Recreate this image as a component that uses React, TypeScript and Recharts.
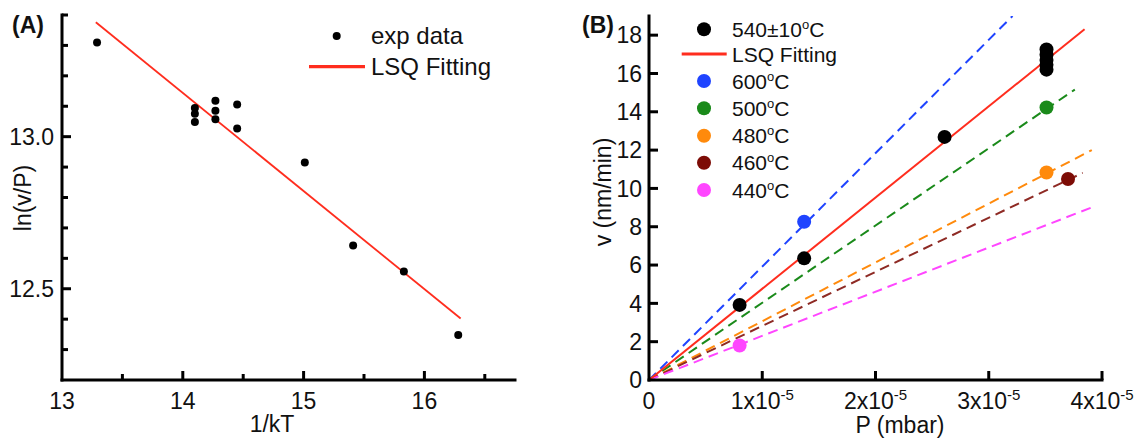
import React from 'react';
import { ComposedChart, Scatter, Line, XAxis, YAxis } from 'recharts';

const FONT = '"Liberation Sans", Arial, Helvetica, sans-serif';

// ---------- Panel A data ----------
const aExpX = [13.29, 14.1, 14.1, 14.1, 14.27, 14.27, 14.27, 14.45, 14.45, 15.01, 15.41, 15.83, 16.28];
const aExpY = [13.31, 13.094, 13.075, 13.048, 13.118, 13.085, 13.057, 13.106, 13.027, 12.915, 12.642, 12.557, 12.348];
const aFitX = [13.28, 16.3];
const aFitY = [13.376, 12.402];
const aXTicks = [13, 13.5, 14, 14.5, 15, 15.5, 16, 16.5];
const aXMajor = [13, 14, 15, 16];
const aYTicks = [12.3, 12.4, 12.5, 12.6, 12.7, 12.8, 12.9, 13.0, 13.1, 13.2, 13.3, 13.4];
const aYMajor = [12.5, 13.0];

// ---------- Panel B data (P in mbar, v in nm/min) ----------
const b540P = [0.8e-5, 1.37e-5, 2.61e-5, 3.51e-5, 3.51e-5, 3.51e-5, 3.51e-5, 3.51e-5];
const b540V = [3.92, 6.35, 12.69, 17.25, 16.98, 16.7, 16.45, 16.2];
const bFitP = [0, 3.846e-5];
const bFitV = [0, 18.31];
const b600P = [1.37e-5];
const b600V = [8.26];
const b500P = [3.51e-5];
const b500V = [14.22];
const b480P = [3.51e-5];
const b480V = [10.83];
const b460P = [3.7e-5];
const b460V = [10.49];
const b440P = [0.8e-5];
const b440V = [1.8];
const b600LineP = [0, 3.21e-5];
const b600LineV = [0, 19.0];
const b500LineP = [0, 3.76e-5];
const b500LineV = [0, 15.16];
const b480LineP = [0, 3.91e-5];
const b480LineV = [0, 12.0];
const b460LineP = [0, 3.83e-5];
const b460LineV = [0, 10.81];
const b440LineP = [0, 3.94e-5];
const b440LineV = [0, 9.08];
const bXTicks = [0, 1e-5, 2e-5, 3e-5, 4e-5];
const bYTicks = [0, 2, 4, 6, 8, 10, 12, 14, 16, 18];

const RED = '#ff2d1e';
const BLUE = '#1f44ff';
const GREEN = '#1a8a1a';
const ORANGE = '#ff8a0c';
const DARKRED = '#7d0c06';
const MAGENTA = '#ff46ff';

const zip = (xs: number[], ys: number[]) => xs.map((x, i) => ({ x, y: ys[i] }));

const TXT = '#111';
const TICK_FS = 23;

const AYTick = (p: any) => {
  const { x, y, payload } = p;
  const v = payload.value;
  const major = aYMajor.some((m) => Math.abs(m - v) < 1e-6);
  return (
    <g>
      <line x1={x} y1={y} x2={x + (major ? 9 : 6)} y2={y} stroke="#000" strokeWidth={3} />
      {major && (
        <text x={x - 8} y={y} dy="0.36em" textAnchor="end" fontSize={TICK_FS} fontFamily={FONT} fill={TXT}>
          {v.toFixed(1)}
        </text>
      )}
    </g>
  );
};

const AXTick = (p: any) => {
  const { x, y, payload } = p;
  const v = payload.value;
  const major = aXMajor.some((m) => Math.abs(m - v) < 1e-6);
  return (
    <g>
      {v !== aXTicks[0] && (
        <line x1={x} y1={y} x2={x} y2={y - (major ? 9 : 6)} stroke="#000" strokeWidth={3} />
      )}
      {major && (
        <text x={x} y={y + 12} dy="0.72em" textAnchor="middle" fontSize={TICK_FS} fontFamily={FONT} fill={TXT}>
          {String(v)}
        </text>
      )}
    </g>
  );
};

const BYTick = (p: any) => {
  const { x, y, payload } = p;
  const v = payload.value;
  return (
    <g>
      {v !== 0 && <line x1={x} y1={y} x2={x + 9} y2={y} stroke="#000" strokeWidth={3} />}
      <text x={x - 7} y={y} dy="0.36em" textAnchor="end" fontSize={TICK_FS} fontFamily={FONT} fill={TXT}>
        {String(v)}
      </text>
    </g>
  );
};

const BXTick = (p: any) => {
  const { x, y, payload } = p;
  const v = payload.value;
  const n = Math.round(v * 1e5);
  return (
    <g>
      {n !== 0 && <line x1={x} y1={y} x2={x} y2={y - 9} stroke="#000" strokeWidth={3} />}
      <text x={x} y={y + 12} dy="0.72em" textAnchor="middle" fontSize={TICK_FS} fontFamily={FONT} fill={TXT}>
        {n === 0 ? (
          '0'
        ) : (
          <>
            {`${n}x10`}
            <tspan dy={-9} fontSize={15}>-5</tspan>
          </>
        )}
      </text>
    </g>
  );
};

const dot = (r: number, fill: string) => (p: any) => <circle cx={p.cx} cy={p.cy} r={r} fill={fill} />;

const axisLineStyle = { stroke: '#000', strokeWidth: 3, strokeLinecap: 'square' as const };

const ChartA = () => (
  <ComposedChart width={560} height={443} margin={{ top: 15, right: 45, bottom: 0, left: 0 }}>
    <XAxis
      type="number"
      dataKey="x"
      domain={[13, 16.75]}
      allowDataOverflow
      ticks={aXTicks}
      interval={0}
      tickSize={0}
      tickMargin={0}
      height={63}
      axisLine={axisLineStyle}
      tickLine={false}
      tick={(p: any) => <AXTick {...p} />}
    />
    <YAxis
      type="number"
      dataKey="y"
      domain={[12.2, 13.4]}
      allowDataOverflow
      ticks={aYTicks}
      interval={0}
      tickSize={0}
      tickMargin={0}
      width={62}
      axisLine={axisLineStyle}
      tickLine={false}
      tick={(p: any) => <AYTick {...p} />}
    />
    <Line data={zip(aFitX, aFitY)} dataKey="y" stroke={RED} strokeWidth={1.8} dot={false} isAnimationActive={false} />
    <Scatter data={zip(aExpX, aExpY)} dataKey="y" shape={dot(4, '#000')} isAnimationActive={false} />
  </ComposedChart>
);

const dashed = { strokeWidth: 2, strokeDasharray: '10 6' };

const ChartB = () => (
  <ComposedChart width={579} height={443} margin={{ top: 16, right: 37, bottom: 0, left: 0 }}>
    <XAxis
      type="number"
      dataKey="x"
      domain={[0, 4e-5]}
      allowDataOverflow
      ticks={bXTicks}
      interval={0}
      tickSize={0}
      tickMargin={0}
      height={63}
      axisLine={axisLineStyle}
      tickLine={false}
      tick={(p: any) => <BXTick {...p} />}
    />
    <YAxis
      type="number"
      dataKey="y"
      domain={[0, 19]}
      allowDataOverflow
      ticks={bYTicks}
      interval={0}
      tickSize={0}
      tickMargin={0}
      width={89}
      axisLine={axisLineStyle}
      tickLine={false}
      tick={(p: any) => <BYTick {...p} />}
    />
    <Line data={zip(b600LineP, b600LineV)} dataKey="y" stroke={BLUE} {...dashed} dot={false} isAnimationActive={false} />
    <Line data={zip(b500LineP, b500LineV)} dataKey="y" stroke={GREEN} {...dashed} dot={false} isAnimationActive={false} />
    <Line data={zip(b480LineP, b480LineV)} dataKey="y" stroke={ORANGE} {...dashed} dot={false} isAnimationActive={false} />
    <Line data={zip(b460LineP, b460LineV)} dataKey="y" stroke="#8e2a24" {...dashed} dot={false} isAnimationActive={false} />
    <Line data={zip(b440LineP, b440LineV)} dataKey="y" stroke={MAGENTA} {...dashed} dot={false} isAnimationActive={false} />
    <Line data={zip(bFitP, bFitV)} dataKey="y" stroke={RED} strokeWidth={2} dot={false} isAnimationActive={false} />
    <Scatter data={zip(b540P, b540V)} dataKey="y" shape={dot(7, '#000')} isAnimationActive={false} />
    <Scatter data={zip(b600P, b600V)} dataKey="y" shape={dot(7, BLUE)} isAnimationActive={false} />
    <Scatter data={zip(b500P, b500V)} dataKey="y" shape={dot(7, GREEN)} isAnimationActive={false} />
    <Scatter data={zip(b480P, b480V)} dataKey="y" shape={dot(7, ORANGE)} isAnimationActive={false} />
    <Scatter data={zip(b460P, b460V)} dataKey="y" shape={dot(7, DARKRED)} isAnimationActive={false} />
    <Scatter data={zip(b440P, b440V)} dataKey="y" shape={dot(7, MAGENTA)} isAnimationActive={false} />
  </ComposedChart>
);

const bLegend = [
  { kind: 'dot', color: '#000', label: '540±10', deg: true },
  { kind: 'line', color: RED, label: 'LSQ Fitting', deg: false },
  { kind: 'dot', color: BLUE, label: '600', deg: true },
  { kind: 'dot', color: GREEN, label: '500', deg: true },
  { kind: 'dot', color: ORANGE, label: '480', deg: true },
  { kind: 'dot', color: DARKRED, label: '460', deg: true },
  { kind: 'dot', color: MAGENTA, label: '440', deg: true },
];
const bLegendY = [29.3, 54, 81, 108.3, 135.7, 162.7, 190];

const Overlay = () => (
  <svg width={1139} height={443} style={{ position: 'absolute', left: 0, top: 0, pointerEvents: 'none' }}>
    <g fontFamily={FONT} fill={TXT}>
      <text x={12} y={33} fontSize={23} fontWeight="bold">(A)</text>
      <text x={582} y={33} fontSize={23} fontWeight="bold">(B)</text>
      <text x={0} y={0} fontSize={23} textAnchor="middle" transform="translate(31,198) rotate(-90)">ln(v/P)</text>
      <text x={272} y={432} fontSize={23} textAnchor="middle">1/kT</text>
      <text x={0} y={0} fontSize={23} textAnchor="middle" transform="translate(611,192) rotate(-90)">v (nm/min)</text>
      <text x={900} y={433} fontSize={23} textAnchor="middle">P (mbar)</text>

      {/* legend A */}
      <circle cx={336.7} cy={36} r={4} fill="#000" />
      <text x={371} y={44} fontSize={24}>exp data</text>
      <line x1={309} y1={66.7} x2={365} y2={66.7} stroke={RED} strokeWidth={3.2} />
      <text x={371} y={75} fontSize={24}>LSQ Fitting</text>

      {/* legend B */}
      {bLegend.map((e, i) => (
        <g key={i}>
          {e.kind === 'dot' ? (
            <circle cx={704} cy={bLegendY[i]} r={7} fill={e.color} />
          ) : (
            <line x1={681.7} y1={bLegendY[i]} x2={726.7} y2={bLegendY[i]} stroke={e.color} strokeWidth={3.2} />
          )}
          <text x={732} y={bLegendY[i] + 7.5} fontSize={21}>
            {e.label}
            {e.deg && (
              <>
                <tspan dy={-8} fontSize={13}>o</tspan>
                <tspan dy={8}>C</tspan>
              </>
            )}
          </text>
        </g>
      ))}
    </g>
  </svg>
);

export default function App() {
  return (
    <div style={{ position: 'absolute', left: 0, top: 0, width: 1139, height: 443, background: '#fff', fontFamily: FONT }}>
      <div style={{ position: 'absolute', left: 0, top: 0 }}>
        <ChartA />
      </div>
      <div style={{ position: 'absolute', left: 560, top: 0 }}>
        <ChartB />
      </div>
      <Overlay />
    </div>
  );
}
